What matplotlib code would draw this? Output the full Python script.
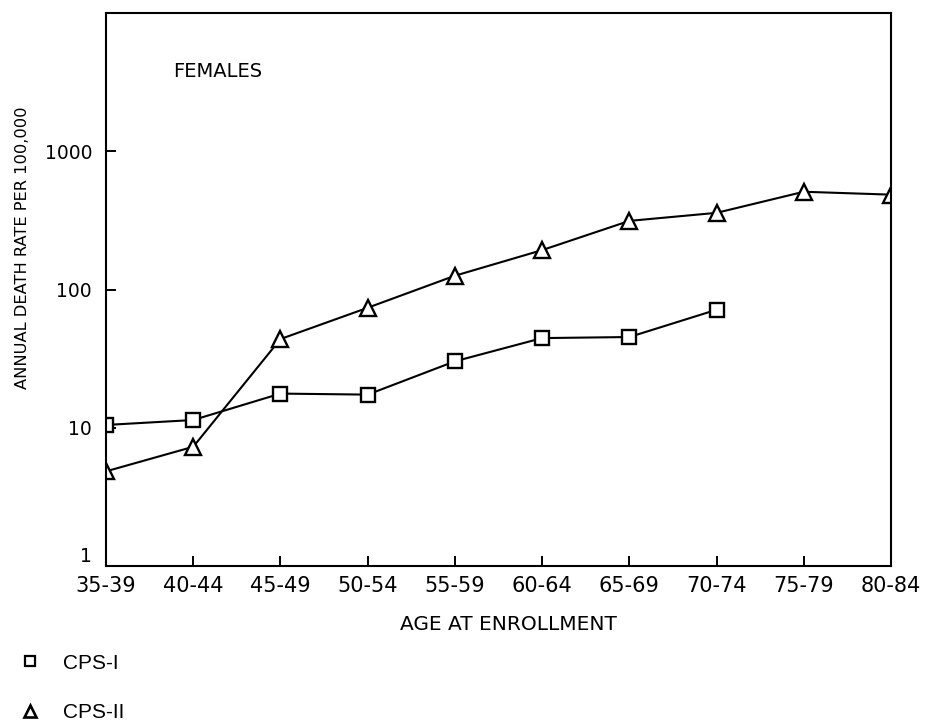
import numpy as np
import matplotlib.pyplot as plt
from matplotlib.lines import Line2D

age_groups = ["35-39", "40-44", "45-49", "50-54", "55-59",
              "60-64", "65-69", "70-74", "75-79", "80-84"]

# annual death rate per 100,000
cps1_rates = [10.5, 11.4, 17.7, 17.4, 30.3, 44.6, 45.4, 71.5]
cps2_rates = [4.85, 7.3, 43.9, 73.9, 126, 193, 314, 359, 510, 486]

y_ticks = [1, 10, 100, 1000]

fig = plt.figure(figsize=(9.34, 7.24), dpi=100)
ax = fig.add_axes([0.1135, 0.218, 0.8405, 0.764])

x = np.arange(len(age_groups))

ax.plot(x[:len(cps1_rates)], cps1_rates, color="black", lw=1.5,
        marker="s", ms=10, mfc="white", mec="black", mew=1.7)
ax.plot(x[:len(cps2_rates)], cps2_rates, color="black", lw=1.5,
        marker="^", ms=11, mfc="white", mec="black", mew=1.7)

ax.set_yscale("log")
ax.set_ylim(1, 10000)
ax.set_xlim(0, len(age_groups) - 1)
ax.set_yticks(y_ticks)
ax.set_yticklabels([str(t) for t in y_ticks])
ax.yaxis.set_minor_locator(plt.NullLocator())
ax.set_xticks(x)
ax.set_xticklabels(age_groups)
ax.tick_params(axis="both", direction="in", length=7, width=1.4)
ax.tick_params(axis="x", labelsize=15, pad=7)
ax.tick_params(axis="y", labelsize=13.5, pad=10)
# the "1" sits above the x labels
ax.get_yticklabels()[0].set_va("bottom")

for s in ax.spines.values():
    s.set_linewidth(1.5)

ax.set_xlabel("AGE AT ENROLLMENT", fontsize=14.5)
ax.xaxis.set_label_coords(0.512, -0.088)
ax.set_ylabel("ANNUAL DEATH RATE PER 100,000", fontsize=11.7)
ax.yaxis.set_label_coords(-0.097, 0.575)
ax.text(0.085, 0.885, "FEMALES", transform=ax.transAxes, fontsize=14)

handles = [
    Line2D([], [], ls="none", marker="s", ms=7, mfc="white", mec="black", mew=1.6),
    Line2D([], [], ls="none", marker="^", ms=8, mfc="white", mec="black", mew=1.9),
]
fig.legend(handles, ["CPS-I", "CPS-II"], loc="upper left",
           bbox_to_anchor=(0.021, 0.097), frameon=False,
           borderpad=0, borderaxespad=0, handlelength=1.0,
           labelspacing=1.45, handletextpad=1.09,
           prop={"family": "Liberation Sans", "size": 15})

fig.savefig("out.png", dpi=100)
